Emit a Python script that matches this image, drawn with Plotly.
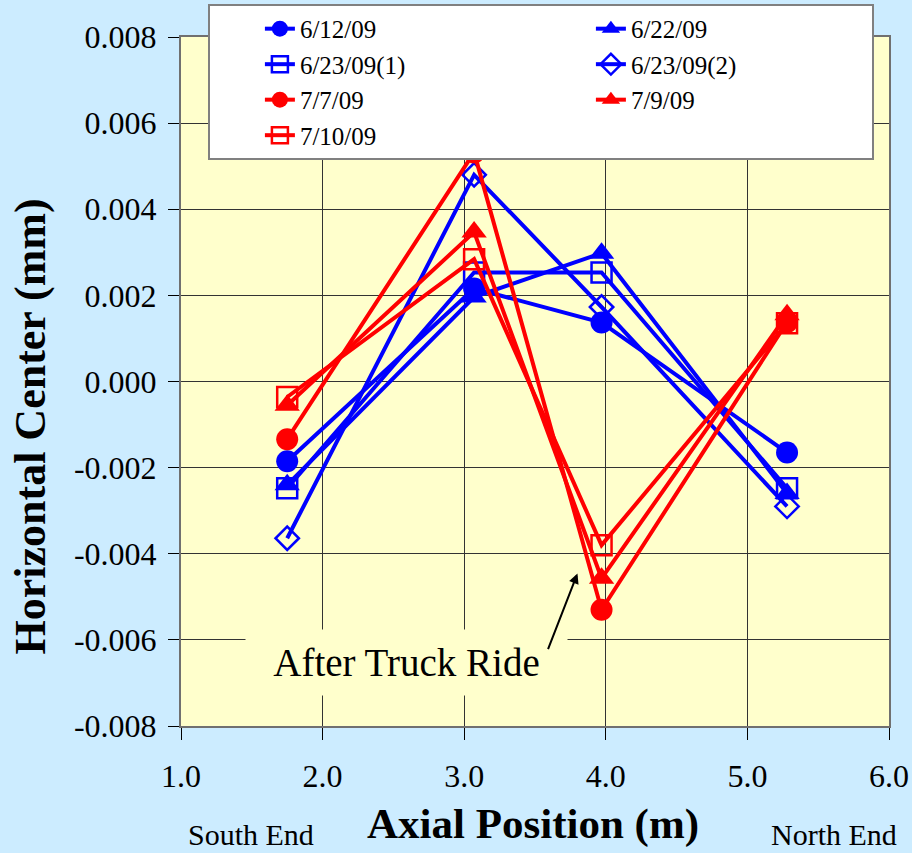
import plotly.graph_objects as go

# ---- data ----
axial_pos = [1.75, 3.07, 3.97, 5.28]

s_0612 = [-0.00185, 0.00216, 0.00137, -0.00165]
s_0622 = [-0.00240, 0.00196, 0.00298, -0.00260]
s_0623a = [-0.00248, 0.00253, 0.00253, -0.00248]
s_0623b = [-0.00364, 0.00480, 0.00173, -0.00290]
s_0707 = [-0.00134, 0.00532, -0.00530, 0.00138]
s_0709 = [-0.00055, 0.00347, -0.00457, 0.00155]
s_0710 = [-0.00036, 0.00284, -0.00380, 0.00135]

series_names = ["6/12/09", "6/22/09", "6/23/09(1)", "6/23/09(2)", "7/7/09", "7/9/09", "7/10/09"]
series_values = [s_0612, s_0622, s_0623a, s_0623b, s_0707, s_0709, s_0710]

x_tickvals = [1, 2, 3, 4, 5, 6]
x_ticktext = ["1.0", "2.0", "3.0", "4.0", "5.0", "6.0"]
y_tickvals = [-0.008, -0.006, -0.004, -0.002, 0.0, 0.002, 0.004, 0.006, 0.008]
y_ticktext = ["-0.008", "-0.006", "-0.004", "-0.002", "0.000", "0.002", "0.004", "0.006", "0.008"]

# ---- styles ----
BLUE = "#0000FF"
RED = "#FF0000"
styles = [
    dict(color=BLUE, symbol="circle", size=22, fill=True),
    dict(color=BLUE, symbol="triangle-up", size=22, fill=True),
    dict(color=BLUE, symbol="square-open", size=20, fill=False),
    dict(color=BLUE, symbol="diamond-open", size=18, fill=False),
    dict(color=RED, symbol="circle", size=22, fill=True),
    dict(color=RED, symbol="triangle-up", size=22, fill=True),
    dict(color=RED, symbol="square-open", size=20, fill=False),
]

FONT = "Liberation Serif"

fig = go.Figure()
for name, vals, st in zip(series_names, series_values, styles):
    fig.add_trace(go.Scatter(
        x=axial_pos, y=vals, name=name, mode="lines+markers",
        line=dict(color=st["color"], width=4),
        marker=dict(symbol=st["symbol"], size=st["size"], color=st["color"],
                    line=dict(color=st["color"], width=2.5 if not st["fill"] else 0)),
    ))

fig.update_layout(
    width=912, height=853,
    margin=dict(l=181, r=23, t=37, b=127, autoexpand=False),
    paper_bgcolor="#CCECFF",
    plot_bgcolor="#FFFFCC",
    font=dict(family=FONT, color="black"),
    showlegend=True,
    legend=dict(
        orientation="h",
        x=0.038, xanchor="left",
        y=1.048, yanchor="top",
        bgcolor="white", bordercolor="#808080", borderwidth=2,
        font=dict(family=FONT, size=25, color="black"),
        entrywidth=236, entrywidthmode="pixels",
        indentation=50,
        itemwidth=30,
    ),
    xaxis=dict(
        range=[1, 6], tickvals=x_tickvals, ticktext=x_ticktext,
        showgrid=True, gridcolor="#333333", gridwidth=1,
        zeroline=False, showline=True, linecolor="#707070", linewidth=2, mirror=True,
        ticks="outside", ticklen=12, tickcolor="black", tickwidth=1,
        tickfont=dict(family=FONT, size=32, color="black"),
        ticklabelstandoff=9,
    ),
    yaxis=dict(
        range=[-0.008, 0.008], tickvals=y_tickvals, ticktext=y_ticktext,
        showgrid=True, gridcolor="#333333", gridwidth=1,
        zeroline=False, showline=True, linecolor="#707070", linewidth=2, mirror=True,
        ticks="outside", ticklen=11, tickcolor="black", tickwidth=1,
        tickfont=dict(family=FONT, size=32, color="black"),
        ticklabelstandoff=5,
    ),
)

annots = [
    dict(text="<b>Horizontal Center (mm)</b>", xref="paper", yref="paper",
         x=-0.213, y=0.435, textangle=-90, showarrow=False,
         xanchor="center", yanchor="middle",
         font=dict(family=FONT, size=44, color="black")),
    dict(text="<b>Axial Position (m)</b>", xref="paper", yref="paper",
         x=0.497, y=-0.1422, showarrow=False, xanchor="center", yanchor="middle",
         font=dict(family=FONT, size=43, color="black")),
    dict(text="South End", xref="paper", yref="paper",
         x=0.099, y=-0.158, showarrow=False, xanchor="center", yanchor="middle",
         font=dict(family=FONT, size=30, color="black")),
    dict(text="North End", xref="paper", yref="paper",
         x=0.922, y=-0.158, showarrow=False, xanchor="center", yanchor="middle",
         font=dict(family=FONT, size=30, color="black")),
    dict(text="After Truck Ride", xref="x", yref="y",
         x=2.596, y=-0.006526, showarrow=False, xanchor="center", yanchor="middle",
         width=311, height=55, borderpad=5, bgcolor="#FFFFCC",
         font=dict(family=FONT, size=39, color="black")),
    dict(text="", xref="x", yref="y", x=3.80, y=-0.00446,
         showarrow=True, ax=-30, ay=77, arrowhead=2, arrowsize=1,
         arrowwidth=2, arrowcolor="black"),
]
fig.update_layout(annotations=annots)

fig.write_html("out.html", config={"displayModeBar": False},
               post_script="document.body.style.margin='0';document.body.style.padding='0';")
